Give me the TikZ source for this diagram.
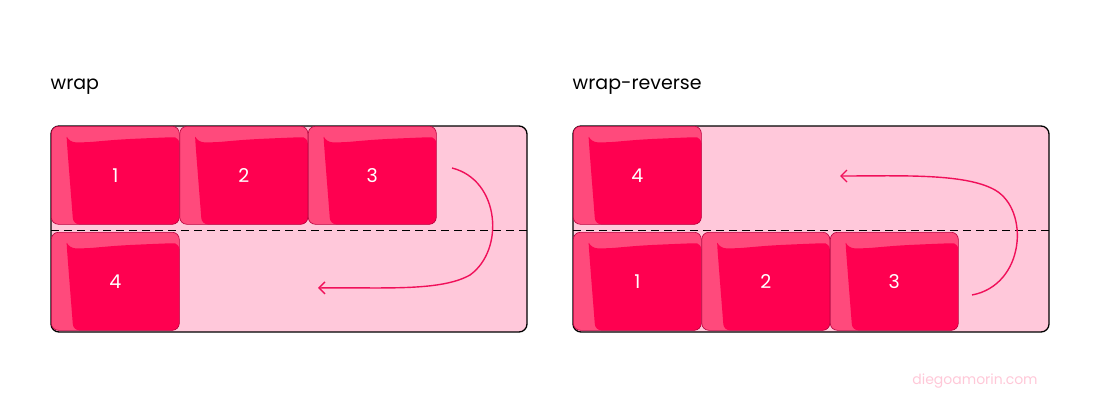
\documentclass[tikz,border=0pt]{standalone}
\usepackage{fontspec}
\setmainfont{Poppins}
\usetikzlibrary{positioning,arrows.meta}
\definecolor{boxbg}{HTML}{FFC8DA}
\definecolor{itemlight}{HTML}{FF4A7C}
\definecolor{itemdark}{HTML}{FF0050}
\definecolor{itemline}{HTML}{B8003C}
\definecolor{arrowcol}{HTML}{F0105A}
\definecolor{markcol}{HTML}{FFC8D8}
\begin{document}
\begin{tikzpicture}[x=1pt,y=-1pt,thick,
  container/.style={draw=black,line width=1.3pt,fill=boxbg,rounded corners=8pt},
  flex item/.style={rounded corners=7pt,fill=itemlight,draw=itemline,line width=0.6pt,
    minimum width=128pt,minimum height=98pt,inner sep=0pt,anchor=north west,
    text=white,font=\fontsize{19}{22}\selectfont,
    path picture={
      \fill[itemdark,rounded corners=6pt]
        ([xshift=36pt,yshift=-16pt]path picture bounding box.north west)
        .. controls ([xshift=70pt,yshift=-13pt]path picture bounding box.north west) .. ([xshift=-10pt,yshift=-11pt]path picture bounding box.north east)
        -- ([yshift=-11pt]path picture bounding box.north east)
        -- (path picture bounding box.south east)
        -- ([xshift=22pt]path picture bounding box.south west)
        .. controls ([xshift=15pt,yshift=40pt]path picture bounding box.west) .. ([xshift=18pt,yshift=-16pt]path picture bounding box.north west)
        -- cycle;}},
  title/.style={font=\fontsize{19}{22}\selectfont,anchor=west},
  wrapline/.style={dashed,line width=0.8pt,dash pattern=on 8pt off 5pt},
  flow/.style={draw=arrowcol,line width=1.4pt,-{Straight Barb[length=6pt,width=12pt]}}]
\useasboundingbox (0,0) rectangle (1100,420);

% wrap
\node[title] (t1) at (47,87) {wrap};
\draw[container] (51,126) rectangle (527,332);
\node[flex item] (a1) at (51,126) {1};
\node[flex item] (a2) at (179.5,126) {2};
\node[flex item] (a3) at (308,126) {3};
\node[flex item] (a4) at (51,232) {4};
\draw[wrapline] (51,230) -- (527,230);
\coordinate (s1) at (452,168);
\coordinate (e1) at (318,288);
\draw[flow] (s1) .. controls (500,180) and (505,250) .. (470,275)
  .. controls (440,292) and (380,287) .. (e1);

% wrap-reverse
\node[title] (t2) at (569,87) {wrap-reverse};
\draw[container] (573,126) rectangle (1049,332);
\node[flex item] (b4) at (573,126) {4};
\node[flex item] (b1) at (573,232) {1};
\node[flex item] (b2) at (701.5,232) {2};
\node[flex item] (b3) at (830,232) {3};
\draw[wrapline] (573,230) -- (1049,230);
\coordinate (s2) at (972,295);
\coordinate (e2) at (840,176);
\draw[flow] (s2) .. controls (1025,285) and (1030,210) .. (995,190)
  .. controls (965,173) and (900,176) .. (e2);

\node[text=markcol,font=\fontsize{14}{16}\selectfont] (mark) at (975,381) {diegoamorin.com};
\end{tikzpicture}
\end{document}
